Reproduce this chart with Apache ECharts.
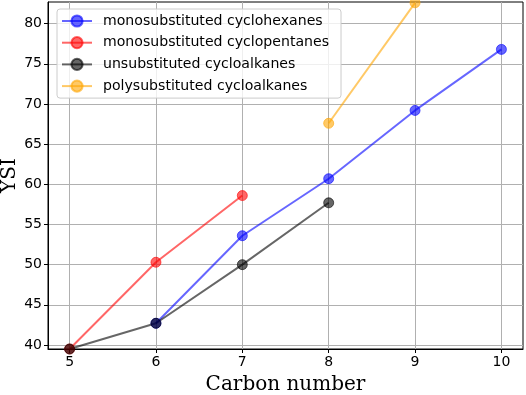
<!DOCTYPE html>
<html><head><meta charset="utf-8">
<script src="https://cdn.jsdelivr.net/npm/echarts@6/dist/echarts.min.js"></script>
<style>html,body{margin:0;padding:0;background:#fff}#c{width:526px;height:395px}</style>
</head><body><div id="c"></div>
<script>
const seriesNames = ['monosubstituted cyclohexanes','monosubstituted cyclopentanes','unsubstituted cycloalkanes','polysubstituted cycloalkanes'];
const hexX = [6,7,8,9,10];
const hexY = [42.7,53.6,60.7,69.2,76.8];
const pentX = [5,6,7];
const pentY = [39.5,50.3,58.6];
const unsubX = [5,6,7,8];
const unsubY = [39.5,42.7,50.0,57.7];
const polyX = [8,9];
const polyY = [67.6,82.6];
const xTicks = [5,6,7,8,9,10];
const yTicks = [40,45,50,55,60,65,70,75,80];
const colors = ['#0000ff','#ff0000','#000000','#ffa500'];

const xs = [hexX,pentX,unsubX,polyX], ys = [hexY,pentY,unsubY,polyY];
const chart = echarts.init(document.getElementById('c'));
const font = 'DejaVu Sans';
chart.setOption({
  animation:false,
  grid:{left:48,right:3,top:2,bottom:46,containLabel:false,outerBoundsMode:'none',show:true,borderColor:'#000',borderWidth:1,backgroundColor:'transparent'},
  legend:{left:57,top:9,orient:'vertical',itemGap:7.7,itemWidth:30,itemHeight:14,
    padding:[5,12,5,4],borderColor:'#ccc',borderWidth:1,borderRadius:3,backgroundColor:'rgba(255,255,255,0.8)',
    textStyle:{fontFamily:font,fontSize:14.1,color:'#000',padding:[0,0,0,6]},data:seriesNames},
  xAxis:{type:'value',min:4.75,max:10.25,name:'Carbon number',nameLocation:'middle',nameGap:26,nameMoveOverlap:false,
    nameTextStyle:{fontFamily:'DejaVu Serif',fontSize:20,color:'#000'},
    axisLine:{show:true,lineStyle:{color:'#000'}},axisTick:{show:true,length:4,customValues:xTicks,lineStyle:{color:'#000'}},
    axisLabel:{customValues:xTicks,fontFamily:font,fontSize:14,color:'#000',margin:6},
    splitLine:{show:true,lineStyle:{color:'#b0b0b0',width:1}}},
  yAxis:{type:'value',min:39.5,max:82.7,name:'YSI',nameLocation:'middle',nameGap:28,nameMoveOverlap:false,
    nameTextStyle:{fontFamily:'DejaVu Serif',fontSize:20,color:'#000'},
    axisLine:{show:true,lineStyle:{color:'#000'}},axisTick:{show:true,length:4,customValues:yTicks,lineStyle:{color:'#000'}},
    axisLabel:{customValues:yTicks,fontFamily:font,fontSize:14,color:'#000',margin:6},
    splitLine:{show:true,lineStyle:{color:'#b0b0b0',width:1}}},
  series: seriesNames.map((n,i)=>({
    name:n,type:'line',data:xs[i].map((x,j)=>[x,ys[i][j]]),
    symbol:'circle',symbolSize:10,clip:true,
    lineStyle:{color:colors[i],width:2,opacity:0.6},
    itemStyle:{color:colors[i],opacity:0.6,borderColor:colors[i],borderWidth:1}
  }))
});
</script></body></html>
